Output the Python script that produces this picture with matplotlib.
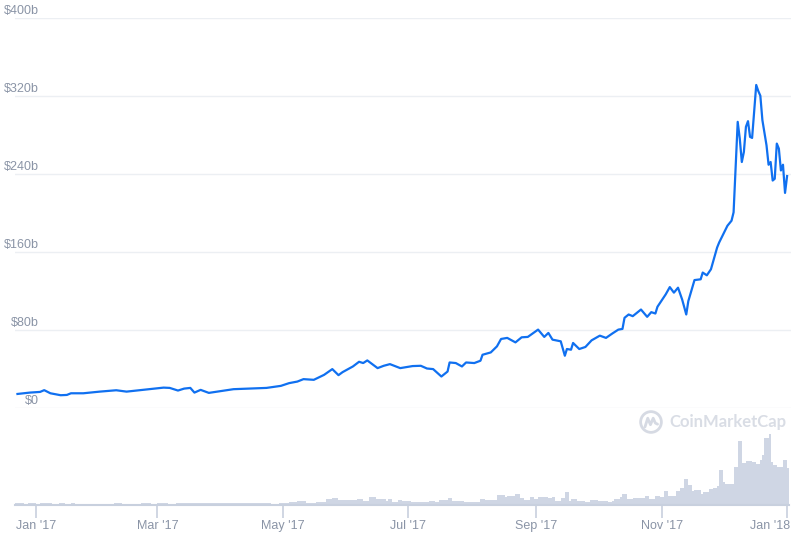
import pandas as pd
import numpy as np
import matplotlib
matplotlib.use("Agg")
import matplotlib.pyplot as plt
import matplotlib.transforms as mtransforms
from matplotlib.patches import Circle

plt.rcParams['font.family'] = ['Liberation Sans', 'DejaVu Sans']

# Market cap, days counted from 1 Jan 2017, values in $ billions
mc_days = [-9, -3, 2, 4, 7, 12, 15, 17, 23, 31, 39, 44, 52, 62, 65, 69, 72, 75, 77, 80,
           84, 88, 96, 104, 112, 119, 123, 127, 130, 135, 140, 144, 147, 149, 154, 157,
           159, 161, 166, 169, 172, 177, 180, 183, 187, 190, 193, 197, 200, 201, 204,
           207, 209, 213, 216, 217, 221, 224, 226, 229, 233, 236, 239, 244, 247, 249,
           251, 255, 257, 258, 260, 261, 264, 267, 270, 274, 277, 280, 283, 285, 286,
           288, 290, 294, 297, 299, 301, 302, 306, 308, 310, 312, 314, 316, 317, 320,
           323, 324, 326, 328, 331, 332, 336, 338, 339, 341, 342, 343, 344, 345, 346,
           347, 348, 350, 351, 352, 353, 355, 356, 357, 358, 359, 360, 361, 362, 363,
           364, 365]
mc_values = [14.4, 15.8, 16.5, 18.3, 15.1, 13.1, 13.4, 15.1, 15.1, 16.8, 18.2, 16.8, 18.6,
             20.9, 20.6, 17.9, 19.9, 20.6, 15.8, 18.6, 15.5, 16.8, 19.3, 19.9, 20.6, 22.7,
             25.5, 27.1, 29.6, 28.9, 34.0, 39.9, 33.7, 36.8, 42.6, 47.4, 46.1, 48.8, 40.9,
             43.3, 45.0, 40.9, 42.0, 43.0, 43.3, 40.5, 39.9, 32.3, 37.4, 46.7, 46.1, 42.6,
             46.7, 46.1, 48.5, 54.6, 57.0, 63.2, 70.8, 71.9, 67.3, 72.5, 72.9, 80.4, 72.9,
             77.0, 70.1, 68.4, 53.6, 60.5, 59.8, 66.7, 60.5, 62.6, 69.4, 74.2, 71.9, 76.3,
             80.4, 81.1, 92.5, 95.9, 94.2, 101.0, 93.5, 98.3, 96.9, 103.8, 116.5, 124.0,
             118.3, 123.4, 111.3, 95.9, 109.6, 131.2, 132.0, 138.9, 136.1, 142.3, 164.6,
             169.8, 186.9, 192.1, 200.7, 293.5, 276.3, 252.3, 262.6, 288.4, 294.2, 278.1,
             277.0, 331.3, 325.1, 320.3, 295.2, 269.4, 249.5, 252.3, 233.3, 235.1, 271.2,
             266.0, 243.6, 249.5, 220.6, 237.9]

# 24h volume, step start days and values in $ billions
vol_days = [-10, -6, -4, 0, 2, 4, 6, 8, 11, 14, 17, 19, 33, 35, 38, 42, 51, 56, 59, 64,
            68, 70, 74, 78, 91, 97, 114, 118, 120, 123, 127, 131, 134, 136, 141, 144, 147,
            156, 159, 162, 165, 170, 171, 173, 176, 178, 182, 191, 194, 196, 200, 202,
            205, 208, 211, 216, 218, 224, 228, 229, 233, 235, 237, 240, 242, 244, 246,
            249, 251, 252, 255, 257, 259, 260, 263, 267, 269, 273, 278, 280, 281, 284,
            285, 287, 290, 296, 298, 301, 303, 305, 307, 311, 313, 315, 317, 319, 320,
            323, 324, 327, 329, 331, 332, 334, 335, 339, 341, 343, 345, 348, 350, 352,
            353, 354, 356, 357, 358, 360, 363, 365]
vol_values = [0.5, 0.25, 0.5, 0.25, 0.5, 0.7, 0.5, 0.25, 0.5, 0.25, 0.5, 0.2, 0.4,
              0.2, 0.5, 0.2, 0.5, 0.25, 0.5, 0.4, 0.7, 0.5, 0.7, 0.5, 0.7, 0.5,
              0.4, 0.66, 0.56, 0.89, 1.22, 0.76, 0.56, 0.99, 1.88, 2.31, 1.65, 1.98, 1.42,
              2.64, 1.88, 1.42, 1.98, 0.99, 1.65, 1.22, 0.89, 1.32, 0.99, 1.55, 2.31, 1.32,
              1.22, 1.09, 0.99, 1.88, 1.55, 3.3, 2.74, 2.97, 3.63, 2.2, 1.55, 2.54, 1.88,
              2.54, 2.74, 2.31, 2.54, 1.42, 2.2, 4.29, 1.42, 1.88, 1.32, 1.09, 1.55, 1.22,
              1.09, 1.42, 1.88, 2.54, 3.63, 1.88, 2.2, 2.97, 1.98, 3.07, 2.64, 4.62, 3.07,
              4.62, 5.51, 8.58, 6.6, 4.62, 4.95, 3.53, 4.39, 5.28, 5.51, 6.27, 11.55, 7.69,
              6.83, 12.64, 21.12, 13.76, 14.52, 14.29, 13.43, 14.85, 16.5, 22.21, 23.33,
              14.29, 13.2, 12.64, 14.85, 12.11]
vol_end_day = 366

start = pd.Timestamp("2017-01-01")
tick_dates = ["2017-01-01", "2017-03-01", "2017-05-01", "2017-07-01",
              "2017-09-01", "2017-11-01", "2018-01-01"]
tick_labels = ["Jan '17", "Mar '17", "May '17", "Jul '17", "Sep '17", "Nov '17", "Jan '18"]
tick_days = [(pd.Timestamp(d) - start).days for d in tick_dates]

y_ticks = [0, 80, 160, 240, 320, 400]
y_labels = ["$0", "$80b", "$160b", "$240b", "$320b", "$400b"]

line_color = "#1070f0"
vol_color = "#cfd6e4"
grid_color = "#eceff3"
text_color = "#8a94a6"
xlim = (-10.2, 366.9)

fig = plt.figure(figsize=(7.91, 5.33), dpi=100)
W, H = 791, 533

# main price axis
ax = fig.add_axes([15 / W, (H - 408) / H, 776 / W, 390 / H])
ax.plot(mc_days, mc_values, color=line_color, lw=1.6, solid_joinstyle="round")
ax.set_xlim(*xlim)
ax.set_ylim(0, 400)
for v, lab in zip(y_ticks, y_labels):
    ax.axhline(v, color=grid_color, lw=1, zorder=0)
    ax.text(24 / 776, v + 1.5, lab, transform=ax.get_yaxis_transform(),
            ha="right", va="bottom", fontsize=9, color=text_color)
ax.set_xticks([])
ax.set_yticks([])
for s in ax.spines.values():
    s.set_visible(False)
ax.patch.set_alpha(0)

# volume axis
axv = fig.add_axes([15 / W, (H - 505) / H, 776 / W, 97 / H])
axv.stairs(vol_values, vol_days + [vol_end_day], fill=True, color=vol_color, lw=0)
axv.set_xlim(*xlim)
axv.set_ylim(0, 32)
axv.set_yticks([])
axv.set_xticks(tick_days)
axv.set_xticklabels(tick_labels)
axv.tick_params(axis="x", length=9, width=1.2, color="#c8d0de", labelcolor=text_color,
                labelsize=9, pad=2)
last = axv.get_xticklabels()[-1]
last.set_horizontalalignment("right")
last.set_transform(last.get_transform() +
                   mtransforms.ScaledTranslation(3 / 100, 0, fig.dpi_scale_trans))
for s in ["top", "left", "right"]:
    axv.spines[s].set_visible(False)
axv.spines["bottom"].set_color("#c8d0de")
axv.spines["bottom"].set_linewidth(1.5)
axv.spines["bottom"].set_bounds(xlim[0], 366)
axv.patch.set_alpha(0)

# watermark
logo = fig.add_axes([639 / W, (H - 434) / H, 24 / W, 24 / H])
logo.set_xlim(-1.1, 1.1)
logo.set_ylim(-1.1, 1.1)
logo.set_aspect("equal")
logo.axis("off")
logo.add_patch(Circle((0, 0), 0.95, fill=False, ec="#d6dae3", lw=2))
logo.plot([-0.55, -0.3, -0.05, 0.2, 0.4, 0.6], [-0.45, 0.35, -0.25, 0.35, -0.1, -0.2],
          color="#d6dae3", lw=2, solid_capstyle="round")
fig.text(669 / W, (H - 422) / H, "CoinMarketCap", fontsize=12, fontweight="bold",
         color="#d9dde5", va="center", ha="left", family=["Lato", "DejaVu Sans"])

fig.savefig("out.png", dpi=100)
